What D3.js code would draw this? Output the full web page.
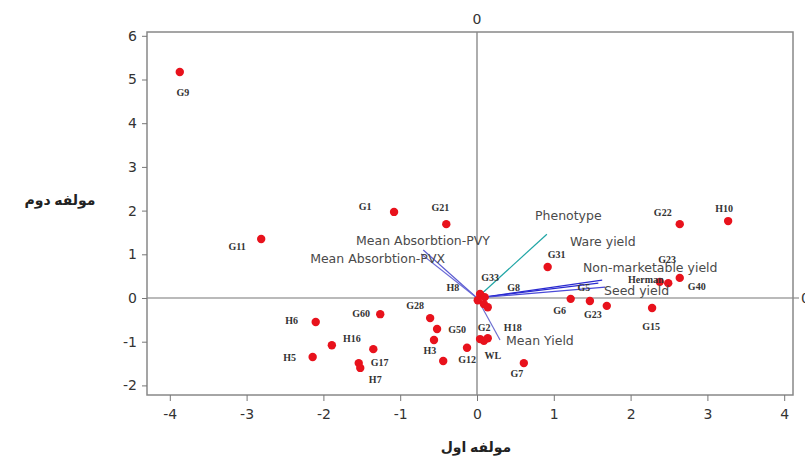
<!DOCTYPE html>
<html><head><meta charset="utf-8">
<script src="https://cdn.jsdelivr.net/npm/d3@7"></script>
<style>body{margin:0;background:#fff}svg{display:block}</style>
</head><body><svg id="c" width="805" height="459"></svg>
<script>
const pointNames = ["G9","G1","G21","G11","G22","H10","G31","Herman","G23","G40","G15","G6","G5","G23","G33","G8","H8","","","G2","H18","WL","H6","G60","G28","G50","H3","G12","","H16","","H5","G17","H7","G7"];
const pointX = [-3.87,-1.08,-0.40,-2.81,2.64,3.27,0.92,2.38,2.49,2.64,2.28,1.22,1.47,1.69,0.04,0.10,0.01,0.09,0.14,0.04,0.14,0.09,-2.10,-1.26,-0.61,-0.52,-0.56,-0.44,-0.13,-1.89,-1.35,-2.14,-1.54,-1.52,0.61];
const pointY = [5.17,1.97,1.69,1.35,1.69,1.76,0.71,0.37,0.34,0.46,-0.23,-0.02,-0.07,-0.18,0.09,0.02,-0.05,-0.14,-0.21,-0.94,-0.92,-0.98,-0.55,-0.37,-0.46,-0.71,-0.96,-1.44,-1.14,-1.08,-1.17,-1.35,-1.49,-1.60,-1.49];
const vectorNames = ["Phenotype","Ware yield","Non-marketable yield","Seed yield","Mean Absorbtion-PVY","Mean Absorbtion-PVX","Mean Yield"];
const vectorX = [0.91,1.63,1.58,1.67,-0.70,-0.73,0.30];
const vectorY = [1.46,0.41,0.34,0.25,1.10,1.01,-0.96];
const xTicks = [-4,-3,-2,-1,0,1,2,3,4];
const yTicks = [-2,-1,0,1,2,3,4,5,6];
const xTitle = "مولفه اول", yTitle = "مولفه دوم";

// layout / styling (not data)
const L=147,R=793,T=32,B=395;
const labelOff = [[3,20],[-29,-5],[-6,-17],[-24,7],[-17,-12],[-4,-13],[9,-12],[-14,-2],[-1,-24],[17,9],[-1,18],[-11,12],[-6,-14],[-14,9],[10,-17],[29,-10],[-25,-13],[0,0],[0,0],[4,-12],[25,-11],[9,15],[-24,-2],[-19,-1],[-15,-13],[20,0],[-4,11],[24,-1],[0,0],[20,-7],[0,0],[-23,1],[21,-1],[15,12],[-7,10]];
const vecLabelPos = [[535,216,"start"],[570,242,"start"],[583,268,"start"],[604,291,"start"],[490,241,"end"],[445,259,"end"],[506,341,"start"]];
const vecColor = ["#1fa5a5","#2a2ad0","#2a2ad0","#4a4ad8","#5a5ad0","#6a6ad8","#7070d0"];

const x = d3.scaleLinear().domain([(L-477)/76.8,(R-477)/76.8]).range([L,R]);
const y = d3.scaleLinear().domain([(298-B)/43.7,(298-T)/43.7]).range([B,T]);
const svg = d3.select("#c");
const fmt = d => String(d);

// zero lines
svg.append("line").attr("x1",x(0)).attr("x2",x(0)).attr("y1",T).attr("y2",B).attr("stroke","#777").attr("stroke-width",1.2);
svg.append("line").attr("x1",L).attr("x2",R+6).attr("y1",y(0)).attr("y2",y(0)).attr("stroke","#777").attr("stroke-width",1.2);

// frame
svg.append("rect").attr("x",L).attr("y",T).attr("width",R-L).attr("height",B-T).attr("fill","none").attr("stroke","#888").attr("stroke-width",1.5);

// axes
const xa = svg.append("g").attr("transform",`translate(0,${B})`).call(d3.axisBottom(x).tickValues(xTicks).tickSize(6).tickSizeOuter(0).tickFormat(fmt));
const ya = svg.append("g").attr("transform",`translate(${L},0)`).call(d3.axisLeft(y).tickValues(yTicks).tickSize(5).tickSizeOuter(0).tickFormat(fmt));
[xa,ya].forEach(a=>{a.select(".domain").remove();a.selectAll(".tick line").attr("stroke","#777");
  a.selectAll("text").attr("font-family","DejaVu Sans, sans-serif").attr("font-size",14).attr("fill","#333");});
xa.selectAll("text").attr("dy","1.05em");
ya.selectAll("text").attr("dx","-2");

// zero labels
svg.append("text").attr("x",x(0)).attr("y",24).attr("text-anchor","middle").attr("font-family","DejaVu Sans, sans-serif").attr("font-size",14).attr("fill","#333").text("0");
svg.append("text").attr("x",R+8).attr("y",y(0)+5).attr("font-family","DejaVu Sans, sans-serif").attr("font-size",14).attr("fill","#333").text("0");

// titles
svg.append("text").attr("x",476).attr("y",452).attr("text-anchor","middle").attr("font-family","Noto Sans, DejaVu Sans, sans-serif").attr("font-weight","bold").attr("font-size",14).attr("fill","#222").attr("direction","rtl").text(xTitle);
svg.append("text").attr("x",60).attr("y",205).attr("text-anchor","middle").attr("font-family","Noto Sans, DejaVu Sans, sans-serif").attr("font-weight","bold").attr("font-size",14).attr("fill","#222").attr("direction","rtl").text(yTitle);

// vectors
const vg = svg.append("g");
vectorNames.forEach((n,i)=>{
  vg.append("line").attr("x1",x(0)).attr("y1",y(0)).attr("x2",x(vectorX[i])).attr("y2",y(vectorY[i])).attr("stroke",vecColor[i]).attr("stroke-width",1.2);
});

// points
const pts = pointNames.map((n,i)=>({n,x:pointX[i],y:pointY[i],o:labelOff[i]}));
svg.append("g").selectAll("circle").data(pts).join("circle").attr("cx",d=>x(d.x)).attr("cy",d=>y(d.y)).attr("r",4.2).attr("fill","#e8121c");

// vector labels
vectorNames.forEach((n,i)=>{
  const p=vecLabelPos[i];
  svg.append("text").attr("x",p[0]).attr("y",p[1]).attr("dy","0.35em").attr("text-anchor",p[2]).attr("font-family","DejaVu Sans, sans-serif").attr("font-size",12.5).attr("fill","#4a4a4a").text(n);
});

// point labels
svg.append("g").selectAll("text").data(pts.filter(d=>d.n)).join("text")
  .attr("x",d=>x(d.x)+d.o[0]).attr("y",d=>y(d.y)+d.o[1]).attr("dy","0.35em").attr("text-anchor","middle")
  .attr("font-family","Liberation Serif, serif").attr("font-weight","bold").attr("font-size",10).attr("fill","#333").text(d=>d.n);
</script></body></html>
